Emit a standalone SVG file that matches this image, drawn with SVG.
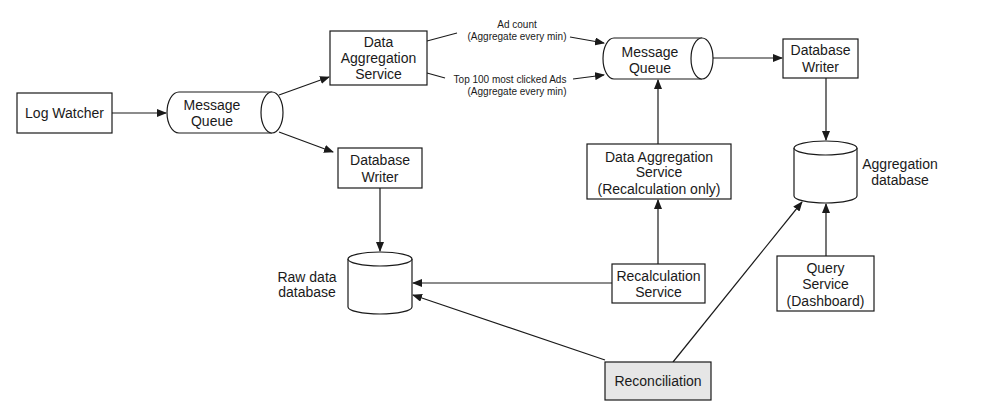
<svg xmlns="http://www.w3.org/2000/svg" width="984" height="410" viewBox="0 0 984 410">
<defs>
<marker id="ah" markerUnits="userSpaceOnUse" markerWidth="10" markerHeight="8" refX="9" refY="4" orient="auto">
<path d="M0,0 L10,4 L0,8 Z" fill="#1a1a1a"/>
</marker>
<style>
.box{fill:#fff;stroke:#1a1a1a;stroke-width:1.2}
.shape{fill:#fff;stroke:#1a1a1a;stroke-width:1.2}
.t{font-family:"Liberation Sans",Arial,sans-serif;font-size:14px;fill:#1a1a1a;text-anchor:middle}
.s{font-family:"Liberation Sans",Arial,sans-serif;font-size:10px;fill:#1a1a1a;text-anchor:middle}
.c line,.c path{stroke:#1a1a1a;stroke-width:1.2;fill:none}
.a{marker-end:url(#ah)}
</style>
</defs>
<rect width="984" height="410" fill="#fff"/>

<g class="c" id="connectors">
<line class="a" x1="112" y1="113" x2="166" y2="113"/>
<line class="a" x1="279" y1="95" x2="329" y2="77"/>
<line class="a" x1="279" y1="132" x2="333" y2="152"/>
<line class="a" x1="380" y1="188" x2="380" y2="251"/>
<line x1="427" y1="41" x2="457" y2="33"/>
<line class="a" x1="570" y1="37" x2="604" y2="43"/>
<line x1="427" y1="73" x2="445" y2="78"/>
<line class="a" x1="573" y1="79" x2="604" y2="75"/>
<line class="a" x1="713" y1="58" x2="782" y2="58"/>
<line class="a" x1="826" y1="78" x2="826" y2="140"/>
<line class="a" x1="658" y1="144" x2="658" y2="80"/>
<line class="a" x1="658" y1="264" x2="658" y2="200"/>
<line class="a" x1="612" y1="283" x2="413" y2="283"/>
<line class="a" x1="605" y1="360" x2="413" y2="295"/>
<line class="a" x1="673" y1="362" x2="802" y2="202"/>
<line class="a" x1="826" y1="256" x2="826" y2="204"/>
<text class="s" x="517" y="28">Ad count</text>
<text class="s" x="517" y="40">(Aggregate every min)</text>
<text class="s" x="510" y="83">Top 100 most clicked Ads</text>
<text class="s" x="517" y="95">(Aggregate every min)</text>
</g>

<g id="log-watcher">
<rect class="box" x="17" y="93" width="95" height="40"/>
<text class="t" x="64.5" y="118">Log Watcher</text>
</g>

<g id="mq-left">
<path class="shape" d="M272,92 L179,92 A12,20.5 0 0 0 179,133 L272,133"/>
<ellipse class="shape" cx="272" cy="112.5" rx="11" ry="20.5"/>
<text class="t" x="212" y="110">Message</text>
<text class="t" x="212" y="126">Queue</text>
</g>

<g id="das">
<rect class="box" x="330" y="31" width="97" height="54"/>
<text class="t" x="378.5" y="47">Data</text>
<text class="t" x="378.5" y="63">Aggregation</text>
<text class="t" x="378.5" y="79">Service</text>
</g>

<g id="db-writer-left">
<rect class="box" x="338" y="148" width="84" height="40"/>
<text class="t" x="380" y="165">Database</text>
<text class="t" x="380" y="182">Writer</text>
</g>

<g id="raw-db">
<path class="shape" d="M348,259 L348,307 A32,7 0 0 0 412,307 L412,259"/>
<ellipse class="shape" cx="380" cy="259" rx="32" ry="7"/>
<text class="t" x="307" y="282">Raw data</text>
<text class="t" x="307" y="297">database</text>
</g>

<g id="mq-right">
<path class="shape" d="M702,38 L614,38 A11,20.5 0 0 0 614,79 L702,79"/>
<ellipse class="shape" cx="702" cy="58.5" rx="11" ry="20.5"/>
<text class="t" x="650" y="57">Message</text>
<text class="t" x="650" y="73">Queue</text>
</g>

<g id="db-writer-right">
<rect class="box" x="783" y="39" width="75" height="39"/>
<text class="t" x="820.5" y="55">Database</text>
<text class="t" x="820.5" y="72">Writer</text>
</g>

<g id="agg-db">
<path class="shape" d="M794,148 L794,196 A31.5,7 0 0 0 857,196 L857,148"/>
<ellipse class="shape" cx="825.5" cy="148" rx="31.5" ry="7"/>
<text class="t" x="900" y="169">Aggregation</text>
<text class="t" x="900" y="185">database</text>
</g>

<g id="das-recalc">
<rect class="box" x="587" y="144" width="144" height="55"/>
<text class="t" x="659" y="162">Data Aggregation</text>
<text class="t" x="659" y="177">Service</text>
<text class="t" x="659" y="194">(Recalculation only)</text>
</g>

<g id="recalc-service">
<rect class="box" x="612" y="264" width="93" height="39"/>
<text class="t" x="658.5" y="281">Recalculation</text>
<text class="t" x="658.5" y="297">Service</text>
</g>

<g id="reconciliation">
<rect class="box" x="605" y="362" width="106" height="38" style="fill:#e6e6e6"/>
<text class="t" x="658" y="386">Reconciliation</text>
</g>

<g id="query-service">
<rect class="box" x="777" y="256" width="97" height="55"/>
<text class="t" x="825.5" y="273">Query</text>
<text class="t" x="825.5" y="289">Service</text>
<text class="t" x="825.5" y="306">(Dashboard)</text>
</g>
</svg>
